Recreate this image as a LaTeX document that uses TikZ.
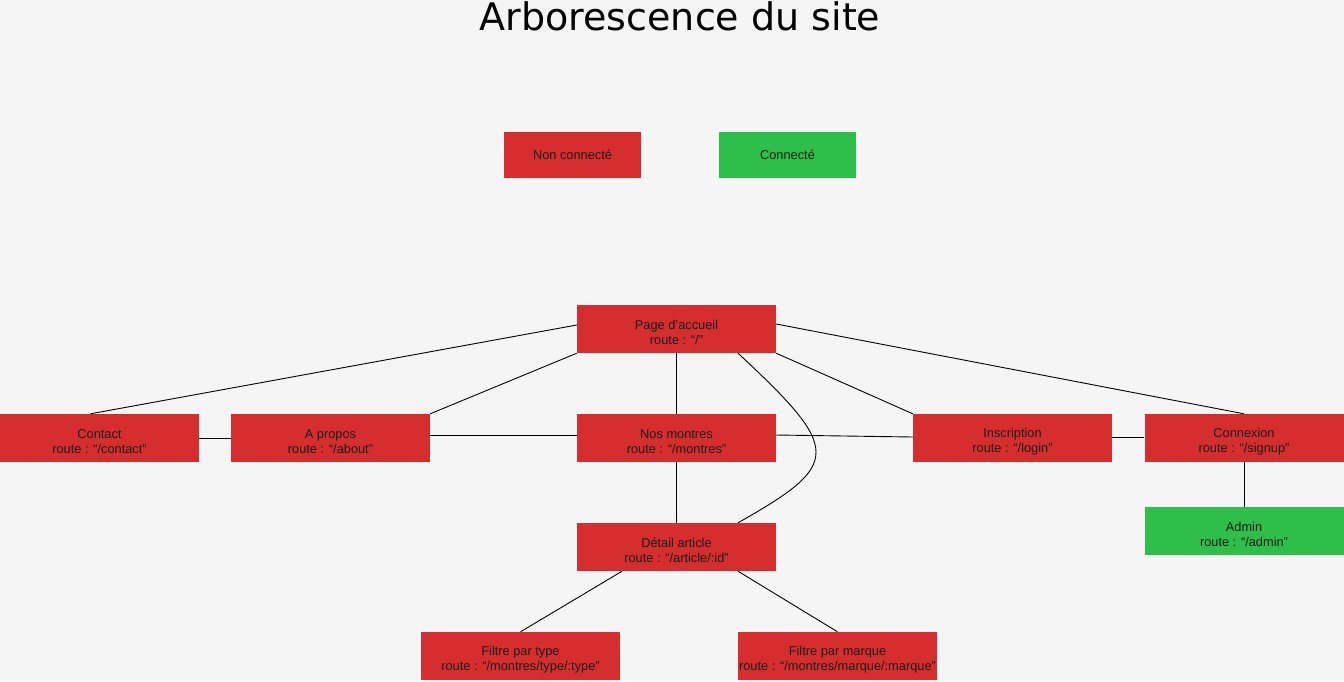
\documentclass[tikz,border=0pt]{standalone}
\usepackage{fontspec}
\setmainfont{Liberation Sans}
\newfontfamily\titrefont{DejaVu Sans}
\definecolor{bg}{HTML}{F5F5F5}
\definecolor{rouge}{HTML}{D62E2E}
\definecolor{vert}{HTML}{2EBF4A}
\definecolor{ink}{HTML}{1A1A1A}
\newcommand\hautligne{\rule{0pt}{16.5pt}}
\tikzset{
  pg/.style={rectangle, minimum width=199pt, minimum height=48pt, inner sep=0pt,
    fill=rouge, text=ink, align=center, font=\fontsize{12.8}{15}\selectfont},
  pgok/.style={pg, fill=vert},
  legend/.style={pg, minimum width=137pt, minimum height=46pt},
  lien/.style={draw=black, line width=0.9pt}
}
\begin{document}
\begin{tikzpicture}[x=1pt,y=-1pt]
\fill[bg] (0,0) rectangle (1344,681);
\useasboundingbox (0,0) rectangle (1344,681);
\node[anchor=base, text=black, font=\titrefont\fontsize{38}{44}\selectfont] (titre) at (680,30) {Arborescence du site};
\node[legend] (nc) at (572.5,155) {Non connecté};
\node[legend, fill=vert] (co) at (787.5,155) {Connecté};

\node[pg] (page) at (676.5,329) {\hautligne Page d’accueil\\route : “/”};
\node[pg] (contact) at (99.5,438) {\hautligne Contact\\route : “/contact”};
\node[pg] (apropos) at (330.5,438) {\hautligne A propos\\route : “/about”};
\node[pg] (montres) at (676.5,438) {\hautligne Nos montres\\route : “/montres”};
\node[pg] (inscr) at (1012.5,438) {\hautligne Inscription\\route : “/login”};
\node[pg] (connex) at (1244,438) {\hautligne Connexion\\route : “/signup”};
\node[pgok] (admin) at (1244,531) {\hautligne Admin\\route : “/admin”};
\node[pg] (detail) at (676.5,547) {\hautligne Détail article\\route : “/article/:id”};
\node[pg] (ftype) at (520.5,656) {\hautligne Filtre par type\\route : “/montres/type/:type”};
\node[pg] (fmarque) at (837.5,656) {\hautligne Filtre par marque\\route : “/montres/marque/:marque”};

\draw[lien] ([yshift=4pt]page.west) -- ([xshift=-9pt]contact.north);
\draw[lien] (page.south west) -- (apropos.north east);
\draw[lien] (page.south) -- (montres.north);
\draw[lien] ([xshift=61.5pt]page.south) .. controls (842,450) and (842,464) .. ([xshift=61.5pt]detail.north);
\draw[lien] (page.south east) -- (inscr.north west);
\draw[lien] ([yshift=5pt]page.east) -- (connex.north);
\draw[lien] (contact.east) -- (apropos.west);
\draw[lien] ([yshift=3pt]apropos.east) -- ([yshift=3pt]montres.west);
\draw[lien] ([yshift=3pt]montres.east) -- ([yshift=1pt]inscr.west);
\draw[lien] ([yshift=1pt]inscr.east) -- ([yshift=1pt]connex.west);
\draw[lien] (connex.south) -- (admin.north);
\draw[lien] (montres.south) -- (detail.north);
\draw[lien] ([xshift=-54.5pt]detail.south) -- (ftype.north);
\draw[lien] ([xshift=61.5pt]detail.south) -- (fmarque.north);
\end{tikzpicture}
\end{document}
